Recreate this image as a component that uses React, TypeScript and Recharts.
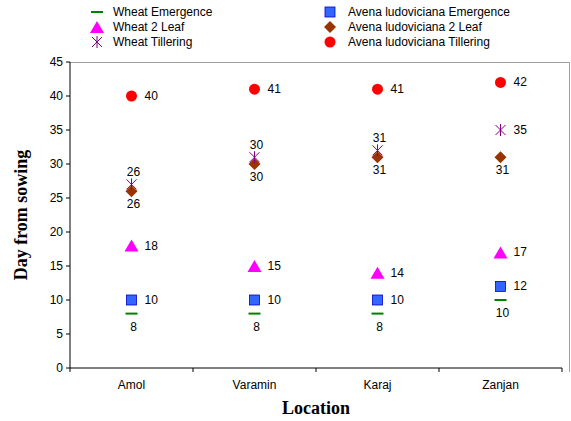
import { ComposedChart, Line, XAxis, YAxis, LabelList } from "recharts"

const locations = ["Amol", "Varamin", "Karaj", "Zanjan"]
const wheatEmergence = [8, 8, 8, 10]
const avenaEmergence = [10, 10, 10, 12]
const wheat2Leaf = [18, 15, 14, 17]
const avena2Leaf = [26, 30, 31, 31]
const wheatTillering = [27, 31, 32, 35]
const wheatTilleringLabels = ["26", "30", "31", "35"]
const avenaTillering = [40, 41, 41, 42]
const yTicks = [0, 5, 10, 15, 20, 25, 30, 35, 40, 45]

// each location sits in the middle of its own slot on a 0..n axis
const data = locations.map((loc, i) => ({
  loc,
  pos: i + 0.5,
  we: wheatEmergence[i],
  ae: avenaEmergence[i],
  w2: wheat2Leaf[i],
  a2: avena2Leaf[i],
  wt: wheatTillering[i],
  at: avenaTillering[i],
}))
const xTicks = [0, ...locations.flatMap((_, i) => [i + 0.5, i + 1])]

type Kind = "dash" | "square" | "triangle" | "diamond" | "star" | "circle"

const series: { key: string; name: string; kind: Kind; labels?: string[]; place: string[] }[] = [
  { key: "we", name: "Wheat Emergence", kind: "dash", place: ["below", "below", "below", "below"] },
  { key: "ae", name: "Avena ludoviciana Emergence", kind: "square", place: ["right", "right", "right", "right"] },
  { key: "w2", name: "Wheat 2 Leaf", kind: "triangle", place: ["right", "right", "right", "right"] },
  { key: "a2", name: "Avena ludoviciana 2 Leaf", kind: "diamond", place: ["below", "below", "below", "below"] },
  { key: "wt", name: "Wheat Tillering", kind: "star", labels: wheatTilleringLabels, place: ["above", "above", "above", "right"] },
  { key: "at", name: "Avena ludoviciana Tillering", kind: "circle", place: ["right", "right", "right", "right"] },
]

function Marker({ kind, cx, cy }: { kind: Kind; cx: number; cy: number }) {
  switch (kind) {
    case "dash":
      return <rect x={cx - 6} y={cy - 1} width={12} height={2} fill="#008000" />
    case "square":
      return <rect x={cx - 5} y={cy - 5} width={10} height={10} fill="#3366FF" stroke="#0000CC" strokeWidth={0.8} />
    case "triangle":
      return <polygon points={`${cx},${cy - 6} ${cx + 7},${cy + 6} ${cx - 7},${cy + 6}`} fill="#FF00FF" />
    case "diamond":
      return <polygon points={`${cx},${cy - 6} ${cx + 6},${cy} ${cx},${cy + 6} ${cx - 6},${cy}`} fill="#993300" />
    case "star":
      return (
        <g stroke="#800080" strokeWidth={1}>
          <line x1={cx} y1={cy - 6} x2={cx} y2={cy + 6} />
          <line x1={cx - 5} y1={cy - 5} x2={cx + 5} y2={cy + 5} />
          <line x1={cx - 5} y1={cy + 5} x2={cx + 5} y2={cy - 5} />
        </g>
      )
    default:
      return <circle cx={cx} cy={cy} r={5.5} fill="#FF0000" />
  }
}

const labelFont = { fontFamily: "Liberation Sans, Arial, sans-serif", fontSize: 12, fill: "#000" }

function XTick(props: any) {
  const { x, y, payload } = props
  const v = payload.value
  if (Number.isInteger(v)) {
    return <line x1={x} y1={y} x2={x} y2={y + 4} stroke="#000" />
  }
  return (
    <text x={x} y={y + 21} textAnchor="middle" {...labelFont}>
      {locations[Math.floor(v)]}
    </text>
  )
}

export default function App() {
  return (
    <div style={{ position: "absolute", left: 0, top: 0, width: 571, height: 421, background: "#fff" }}>
      {/* legend */}
      <div style={{ position: "absolute", left: 0, top: 0, width: 571, height: 50, fontFamily: "Liberation Sans, Arial, sans-serif", fontSize: 12 }}>
        {series.map((s, i) => {
          const col = i % 2
          const row = Math.floor(i / 2)
          const mx = col === 0 ? 97 : 330
          const tx = col === 0 ? 113 : 348
          const y = [12, 27, 42][row]
          return (
            <div key={s.key}>
              <svg style={{ position: "absolute", left: mx - 8, top: y - 8 }} width={16} height={16}>
                <Marker kind={s.kind} cx={8} cy={8} />
              </svg>
              <span style={{ position: "absolute", left: tx, top: y - 8, lineHeight: "16px", whiteSpace: "nowrap" }}>{s.name}</span>
            </div>
          )
        })}
      </div>
      {/* plot frame */}
      <div style={{ position: "absolute", left: 70, top: 62, width: 500, height: 310, borderTop: "1px solid #a0a0a0", borderRight: "1px solid #a0a0a0", boxSizing: "border-box" }} />
      <ComposedChart width={571} height={421} data={data} margin={{ top: 62, right: 9, bottom: 0, left: 0 }} style={{ position: "absolute", left: 0, top: 0 }}>
        <XAxis
          dataKey="pos"
          type="number"
          domain={[0, locations.length]}
          ticks={xTicks}
          interval={0}
          height={53}
          tickLine={false}
          tickSize={0}
          tickMargin={0}
          axisLine={{ stroke: "#000" }}
          tick={<XTick />}
          label={{
            content: ({ viewBox }: any) => (
              <text x={viewBox.x + viewBox.width / 2} y={414} textAnchor="middle" fontFamily="Liberation Serif, Times New Roman, serif" fontWeight="bold" fontSize={18} fill="#000">
                Location
              </text>
            ),
          }}
        />
        <YAxis
          domain={[0, 45]}
          ticks={yTicks}
          width={70}
          tickSize={4}
          tickMargin={3}
          axisLine={{ stroke: "#000" }}
          tickLine={{ stroke: "#000" }}
          tick={labelFont}
          label={{
            content: ({ viewBox }: any) => {
              const cy = viewBox.y + viewBox.height / 2
              return (
                <text x={27} y={cy} transform={`rotate(-90 27 ${cy})`} textAnchor="middle" fontFamily="Liberation Serif, Times New Roman, serif" fontWeight="bold" fontSize={18} fill="#000">
                  Day from sowing
                </text>
              )
            },
          }}
        />
        {series.map((s) => (
          <Line
            key={s.key}
            dataKey={s.key}
            stroke="none"
            isAnimationActive={false}
            activeDot={false}
            dot={(p: any) => <Marker key={`${s.key}-${p.index}`} kind={s.kind} cx={p.cx} cy={p.cy} />}
          >
            <LabelList
              dataKey={s.key}
              content={(p: any) => {
                const idx = p.index
                const text = s.labels ? s.labels[idx] : String(p.value)
                const place = s.place[idx]
                let x = p.x
                let y = p.y
                let anchor = "middle"
                if (place === "right") {
                  x = p.x + 13
                  y = p.y + 4
                  anchor = "start"
                } else if (place === "below") {
                  x = p.x + 2
                  y = p.y + 17
                } else {
                  x = p.x + 2
                  y = p.y - 8
                }
                return (
                  <text key={`${s.key}-l-${idx}`} x={x} y={y} textAnchor={anchor} {...labelFont}>
                    {text}
                  </text>
                )
              }}
            />
          </Line>
        ))}
      </ComposedChart>
    </div>
  )
}
